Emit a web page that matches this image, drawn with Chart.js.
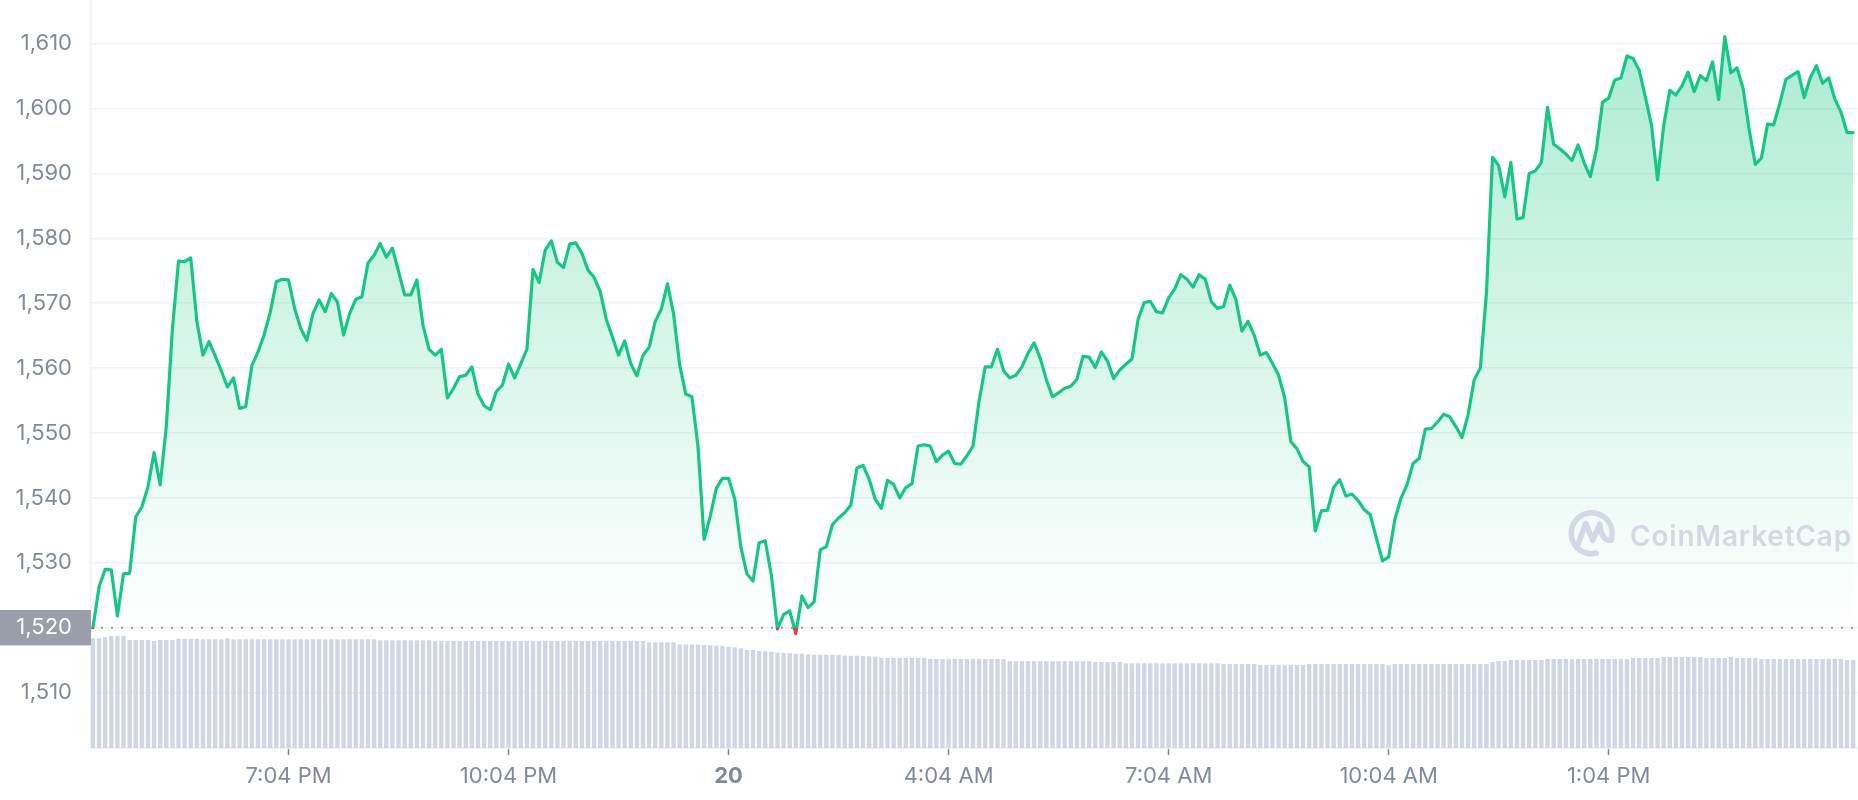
<!DOCTYPE html>
<html>
<head>
<meta charset="utf-8">
<script src="https://cdn.jsdelivr.net/npm/chart.js@4.4.1/dist/chart.umd.min.js"></script>
<style>
  html, body { margin: 0; padding: 0; background: #ffffff; }
  #wrap { width: 1858px; height: 800px; position: relative; }
</style>
</head>
<body>
<div id="wrap"><canvas id="c" width="1858" height="800"></canvas></div>
<script>
// ---- data ----
const intervalMinutes = 5;           // one sample every 5 minutes, first sample 4:24 PM
const openPrice = 1520;              // 24h open (dotted reference line)

const prices = [
  1520.0, 1526.3, 1529.0, 1528.9, 1521.8, 1528.3, 1528.4, 1537.1, 1538.6, 1541.7,
  1547.0, 1542.0, 1551.0, 1566.0, 1576.5, 1576.4, 1577.0, 1567.2, 1562.0, 1564.1,
  1561.9, 1559.6, 1557.1, 1558.5, 1553.8, 1554.1, 1560.4, 1562.5, 1565.1, 1568.6,
  1573.3, 1573.7, 1573.6, 1569.2, 1566.1, 1564.3, 1568.4, 1570.5, 1568.7, 1571.5,
  1570.2, 1565.1, 1568.4, 1570.6, 1571.0, 1576.2, 1577.4, 1579.2, 1577.1, 1578.5,
  1574.9, 1571.3, 1571.3, 1573.6, 1566.6, 1562.9, 1562.0, 1562.9, 1555.4, 1556.9,
  1558.7, 1558.9, 1560.2, 1556.0, 1554.2, 1553.6, 1556.4, 1557.4, 1560.6, 1558.5,
  1560.7, 1562.9, 1575.2, 1573.2, 1578.2, 1579.6, 1576.3, 1575.5, 1579.1, 1579.3,
  1577.7, 1575.1, 1574.0, 1571.8, 1567.5, 1564.8, 1562.0, 1564.2, 1560.7, 1558.8,
  1562.0, 1563.2, 1567.2, 1569.1, 1573.0, 1568.4, 1560.5, 1556.0, 1555.6, 1547.9,
  1533.6, 1537.2, 1541.5, 1543.0, 1543.0, 1539.9, 1532.5, 1528.3, 1527.2, 1533.1,
  1533.4, 1528.1, 1519.8, 1522.0, 1522.6, 1519.1, 1524.9, 1523.1, 1524.0, 1532.0,
  1532.5, 1535.9, 1536.9, 1537.7, 1538.9, 1544.6, 1545.0, 1542.9, 1539.8, 1538.4,
  1542.7, 1542.1, 1540.0, 1541.6, 1542.2, 1548.0, 1548.2, 1548.0, 1545.6, 1546.6,
  1547.2, 1545.3, 1545.2, 1546.5, 1548.0, 1555.0, 1560.2, 1560.2, 1562.9, 1559.6,
  1558.5, 1558.9, 1560.2, 1562.3, 1563.9, 1561.5, 1558.2, 1555.6, 1556.2, 1556.9,
  1557.2, 1558.3, 1561.8, 1561.7, 1560.1, 1562.5, 1561.1, 1558.4, 1559.7, 1560.6,
  1561.4, 1567.5, 1570.1, 1570.3, 1568.7, 1568.5, 1570.8, 1572.2, 1574.4, 1573.7,
  1572.5, 1574.4, 1573.7, 1570.2, 1569.2, 1569.5, 1572.8, 1570.6, 1565.7, 1567.2,
  1565.1, 1562.0, 1562.4, 1560.7, 1558.9, 1555.4, 1548.7, 1547.6, 1545.6, 1544.8,
  1534.9, 1538.0, 1538.1, 1541.6, 1542.8, 1540.3, 1540.6, 1539.6, 1538.2, 1537.4,
  1533.8, 1530.3, 1530.9, 1536.6, 1539.9, 1542.0, 1545.3, 1546.1, 1550.6, 1550.7,
  1551.7, 1552.9, 1552.5, 1551.0, 1549.3, 1552.8, 1558.2, 1560.0, 1571.5, 1592.5,
  1591.2, 1586.4, 1591.7, 1583.0, 1583.2, 1590.0, 1590.4, 1591.7, 1600.2, 1594.5,
  1593.8, 1593.0, 1592.0, 1594.4, 1591.6, 1589.5, 1593.7, 1601.0, 1601.6, 1604.4,
  1604.7, 1608.1, 1607.7, 1605.9, 1601.8, 1597.5, 1589.0, 1597.3, 1602.8, 1602.1,
  1603.5, 1605.6, 1602.6, 1605.1, 1604.3, 1607.2, 1601.4, 1611.1, 1605.5, 1606.3,
  1603.1, 1596.7, 1591.4, 1592.4, 1597.6, 1597.5, 1600.8, 1604.5, 1605.1, 1605.7,
  1601.7, 1604.8, 1606.6, 1603.9, 1604.7, 1601.5, 1599.5, 1596.3, 1596.3
];

// 24h volume bars (relative units)
const volumes = [
  10.97, 10.97, 11.07, 11.2, 11.2, 11.2, 10.8, 10.8, 10.8, 10.8,
  10.7, 10.8, 10.8, 10.8, 10.93, 10.93, 10.93, 10.93, 10.87, 10.87,
  10.87, 10.87, 10.97, 10.87, 10.87, 10.87, 10.87, 10.87, 10.87, 10.87,
  10.87, 10.87, 10.87, 10.87, 10.87, 10.87, 10.87, 10.87, 10.87, 10.87,
  10.87, 10.87, 10.87, 10.87, 10.87, 10.87, 10.87, 10.77, 10.77, 10.77,
  10.77, 10.77, 10.77, 10.77, 10.77, 10.77, 10.7, 10.7, 10.7, 10.7,
  10.7, 10.7, 10.7, 10.7, 10.7, 10.7, 10.7, 10.7, 10.7, 10.7,
  10.7, 10.7, 10.7, 10.7, 10.7, 10.7, 10.7, 10.7, 10.7, 10.7,
  10.7, 10.7, 10.7, 10.7, 10.7, 10.7, 10.7, 10.7, 10.7, 10.7,
  10.7, 10.57, 10.57, 10.57, 10.57, 10.57, 10.35, 10.35, 10.35, 10.35,
  10.3, 10.27, 10.23, 10.2, 10.1, 10.07, 9.97, 9.8, 9.8, 9.7,
  9.67, 9.63, 9.53, 9.5, 9.47, 9.43, 9.43, 9.37, 9.33, 9.33,
  9.33, 9.33, 9.33, 9.23, 9.23, 9.23, 9.2, 9.17, 9.13, 9.02,
  9.02, 9.02, 9.02, 9.02, 9.02, 9.02, 9.02, 8.9, 8.9, 8.9,
  8.9, 8.9, 8.9, 8.9, 8.9, 8.9, 8.9, 8.9, 8.9, 8.9,
  8.68, 8.68, 8.68, 8.68, 8.68, 8.68, 8.68, 8.68, 8.68, 8.68,
  8.68, 8.68, 8.68, 8.68, 8.6, 8.6, 8.6, 8.6, 8.6, 8.47,
  8.47, 8.47, 8.47, 8.47, 8.47, 8.47, 8.47, 8.47, 8.47, 8.47,
  8.47, 8.47, 8.47, 8.47, 8.47, 8.4, 8.4, 8.4, 8.4, 8.4,
  8.4, 8.3, 8.3, 8.3, 8.3, 8.3, 8.3, 8.3, 8.3, 8.4,
  8.4, 8.4, 8.4, 8.4, 8.4, 8.4, 8.4, 8.4, 8.4, 8.4,
  8.4, 8.4, 8.27, 8.4, 8.4, 8.4, 8.4, 8.4, 8.4, 8.4,
  8.4, 8.4, 8.4, 8.4, 8.4, 8.4, 8.4, 8.4, 8.4, 8.6,
  8.7, 8.7, 8.8, 8.8, 8.8, 8.8, 8.8, 8.8, 8.9, 8.9,
  8.9, 8.9, 8.9, 8.9, 8.9, 8.9, 8.9, 8.9, 8.9, 8.9,
  8.9, 8.9, 9.0, 9.0, 9.0, 9.0, 9.0, 9.1, 9.1, 9.1,
  9.1, 9.1, 9.1, 9.1, 9.0, 9.0, 9.0, 9.0, 9.1, 9.0,
  9.0, 9.0, 9.0, 8.9, 8.9, 8.9, 8.9, 8.9, 8.9, 8.9,
  8.9, 8.9, 8.9, 8.9, 8.9, 8.9, 8.9, 8.8, 8.8
];

// x-axis ticks: minutes after the first sample, and their labels
const tickMinutes = [160, 340, 520, 700, 880, 1060, 1240];
const tickLabels  = ['7:04 PM', '10:04 PM', '20', '4:04 AM', '7:04 AM', '10:04 AM', '1:04 PM'];
const yTicks = [1510, 1520, 1530, 1540, 1550, 1560, 1570, 1580, 1590, 1600, 1610];

// ---- styles ----
const GREEN = '#16c784';
const RED = '#ea3943';
const LABEL = '#808a9d';
const GRID = '#eff2f5';
const FONT = 'Inter';
const dayTick = tickLabels.indexOf('20');

const priceData = prices.map((p, i) => ({ x: i * intervalMinutes, y: p }));
const volumeData = volumes.map((v, i) => ({ x: i * intervalMinutes, y: v }));
const xMin = -1.6, xMax = 1444;
const openData = [{ x: xMin, y: openPrice }, { x: xMax, y: openPrice }];

function lineColor(ctx) {
  const chart = ctx.chart;
  const area = chart.chartArea;
  if (!area || !chart.scales.y) return GREEN;
  const yOpen = chart.scales.y.getPixelForValue(openPrice);
  const f = Math.min(1, Math.max(0, (yOpen - area.top) / (area.bottom - area.top)));
  const g = chart.ctx.createLinearGradient(0, area.top, 0, area.bottom);
  g.addColorStop(0, GREEN); g.addColorStop(f, GREEN);
  g.addColorStop(f, RED); g.addColorStop(1, RED);
  return g;
}
function fillColor(ctx) {
  const chart = ctx.chart;
  const area = chart.chartArea;
  if (!area || !chart.scales.y) return 'rgba(22,199,132,0.15)';
  const yOpen = chart.scales.y.getPixelForValue(openPrice);
  const g = chart.ctx.createLinearGradient(0, area.top, 0, yOpen);
  g.addColorStop(0, 'rgba(22,199,132,0.38)');
  g.addColorStop(1, 'rgba(22,199,132,0.0)');
  return g;
}

const watermark = {
  id: 'watermark',
  afterDatasetsDraw(chart) {
    const c = chart.ctx;
    c.save();
    c.strokeStyle = '#d3d8e4';
    c.fillStyle = '#d3d8e4';
    c.lineWidth = 5.5;
    c.lineCap = 'round';
    c.lineJoin = 'round';
    const cx = 1591.7, cy = 533.3, r = 20.5;
    c.beginPath();
    c.arc(cx, cy, r, 1.35, Math.PI * 2 + 0.32);
    c.stroke();
    c.beginPath();
    c.moveTo(cx - 14, cy + 12);
    c.lineTo(cx - 6, cy - 10);
    c.lineTo(cx + 1, cy + 7);
    c.lineTo(cx + 8, cy - 9);
    c.quadraticCurveTo(cx + 10, cy + 8, cx + 19, cy + 7);
    c.stroke();
    c.font = '600 28px Inter';
    try { c.letterSpacing = '0.8px'; } catch (e) {}
    c.textBaseline = 'alphabetic';
    c.textAlign = 'left';
    c.fillText('CoinMarketCap', 1630, 546);
    c.restore();
  }
};

new Chart(document.getElementById('c'), {
  type: 'line',
  data: {
    datasets: [
      {
        type: 'line', label: 'Price', data: priceData, yAxisID: 'y',
        borderColor: lineColor, backgroundColor: fillColor,
        fill: { value: openPrice },
        borderWidth: 3.2, pointRadius: 0, tension: 0,
        borderJoinStyle: 'round', borderCapStyle: 'round', order: 0
      },
      {
        type: 'line', label: 'Open', data: openData, yAxisID: 'y',
        borderColor: '#8f96a3', borderWidth: 2, borderDash: [2, 8],
        pointRadius: 0, fill: false, order: 1
      },
      {
        type: 'bar', label: 'Volume', data: volumeData, yAxisID: 'y2',
        backgroundColor: '#cfd6e4', barPercentage: 0.9, categoryPercentage: 0.8,
        order: 2
      }
    ]
  },
  options: {
    responsive: false,
    animation: false,
    devicePixelRatio: 1,
    events: [],
    layout: { padding: 0 },
    plugins: { legend: { display: false }, tooltip: { enabled: false } },
    scales: {
      x: {
        type: 'linear', min: xMin, max: xMax, offset: false,
        afterBuildTicks: s => { s.ticks = tickMinutes.map(v => ({ value: v })); },
        afterFit: s => { s.height = 52; s.paddingLeft = 0; s.paddingRight = 0; },
        grid: { drawOnChartArea: false, drawTicks: true, tickLength: 7, tickColor: LABEL, tickWidth: 1.5, offset: false },
        border: { color: GRID, width: 2 },
        ticks: {
          autoSkip: false, maxRotation: 0, minRotation: 0, padding: 8, color: LABEL,
          font: ctx => ({ family: FONT, size: 22, weight: (ctx.index === dayTick) ? '700' : '400' }),
          callback: (v, i) => tickLabels[i]
        }
      },
      y: {
        type: 'linear', position: 'left', min: 1501.46, max: 1616.73,
        afterBuildTicks: s => { s.ticks = yTicks.map(v => ({ value: v })); },
        afterFit: s => { s.width = 91; s.paddingTop = 0; s.paddingBottom = 0; },
        grid: { color: GRID, lineWidth: 1.5, drawTicks: false },
        border: { color: GRID, width: 1.5 },
        ticks: {
          padding: 19,
          font: { family: FONT, size: 22 },
          color: ctx => (ctx.tick && ctx.tick.value === openPrice) ? '#ffffff' : LABEL,
          showLabelBackdrop: ctx => !!(ctx.tick && ctx.tick.value === openPrice),
          backdropColor: ctx => (ctx.tick && ctx.tick.value === openPrice) ? '#9a9eab' : 'rgba(0,0,0,0)',
          backdropPadding: { left: 24, right: 20, top: 4.5, bottom: 4.5 },
          callback: v => v.toLocaleString('en-US')
        }
      },
      y2: { type: 'linear', display: false, min: 0, max: 74.8 }
    }
  },
  plugins: [watermark]
});
</script>
</body>
</html>
